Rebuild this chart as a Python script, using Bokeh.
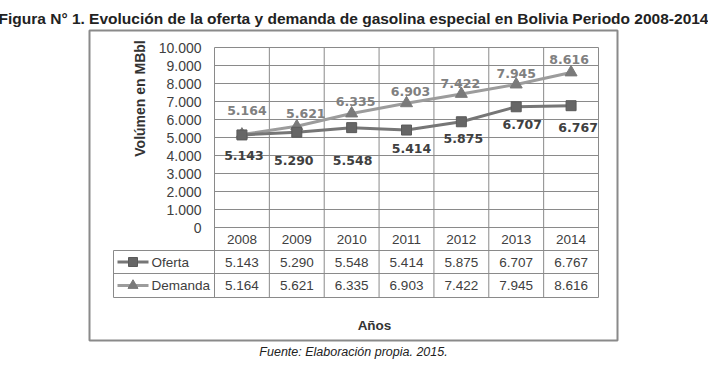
import math
from bokeh.plotting import figure
from bokeh.models import Range1d, LinearAxis, FixedTicker, Title, ColumnDataSource
from bokeh.core.properties import value
from bokeh.embed import file_html
from bokeh.resources import INLINE

# ---------------- data ----------------
years = ["2008", "2009", "2010", "2011", "2012", "2013", "2014"]
oferta = [5143, 5290, 5548, 5414, 5875, 6707, 6767]
demanda = [5164, 5621, 6335, 6903, 7422, 7945, 8616]
y_ticks = [0, 1000, 2000, 3000, 4000, 5000, 6000, 7000, 8000, 9000, 10000]
y_tick_labels = ["0", "1.000", "2.000", "3.000", "4.000", "5.000", "6.000",
                 "7.000", "8.000", "9.000", "10.000"]
series_names = ["Oferta", "Demanda"]


def fmt(v):
    return f"{v:,}".replace(",", ".")


# ---------------- layout helpers (page pixels -> data) ----------------
CAT_W = (598 - 214) / 7.0
PX_PER_UNIT = 180.0 / 10000.0


def X(px):
    return -0.5 + (px - 214) / CAT_W


def Y(py):
    return (227 - py) / PX_PER_UNIT


# label offsets (pixels) for the data labels
of_dx = [2, -3, 1, 5, 2, 6, 7]
of_dy = [21, 28, 33, 18, 17, 18, 22]
de_dx = [5, 9, 4, 4, -1, 0, -2]
de_dy = [-24, -13, -12, -12, -10, -11, -13]

GRID = "#8a8a8a"
TXT = "#404040"
FONT = value("Liberation Sans")

p = figure(width=708, height=368, output_backend="svg", toolbar_location=None,
           x_range=Range1d(X(89), X(617)), y_range=Range1d(Y(340), Y(30)),
           x_axis_location=None, y_axis_location=None,
           min_border_left=89, min_border_right=91, min_border_top=30,
           min_border_bottom=28)
p.grid.visible = False
p.outline_line_color = "#8a8a8a"
p.outline_line_width = 2
p.background_fill_color = "white"
p.border_fill_color = "white"

p.title.text = "Figura N° 1. Evolución de la oferta y demanda de gasolina especial en Bolivia Periodo 2008-2014"
p.title.text_font = "Liberation Sans"
p.title.text_font_size = "15.5px"
p.title.text_font_style = "bold"
p.title.text_color = "#222222"
p.title.align = "center"
p.title.standoff = 8

foot = Title(text="Fuente: Elaboración propia. 2015.", align="center",
             text_font="Liberation Sans", text_font_size="12.5px",
             text_font_style="italic", text_color="#222222", standoff=5)
p.add_layout(foot, "below")

# y axis
yax = LinearAxis(fixed_location=-0.5, ticker=FixedTicker(ticks=y_ticks),
                 bounds=(0, 10000),
                 major_label_overrides={t: l for t, l in zip(y_ticks, y_tick_labels)})
yax.axis_line_color = None
yax.major_tick_line_color = None
yax.minor_tick_line_color = None
yax.major_tick_out = 0
yax.major_tick_in = 0
yax.major_label_standoff = 13
yax.major_label_text_font = "Liberation Sans"
yax.major_label_text_font_size = "14px"
yax.major_label_text_color = TXT
p.add_layout(yax, "left")

n = len(years)
xs = list(range(n))

# horizontal gridlines
p.segment(x0=[-0.5] * len(y_ticks), x1=[n - 0.5] * len(y_ticks), y0=y_ticks, y1=y_ticks,
          line_color=GRID, line_width=1)
# vertical category lines through plot and table
bounds_x = [k - 0.5 for k in range(n + 1)]
p.segment(x0=bounds_x, x1=bounds_x, y0=[y_ticks[-1]] * len(bounds_x), y1=[Y(297)] * len(bounds_x),
          line_color=GRID, line_width=1)
# table horizontal lines
row_lines = [Y(250), Y(273), Y(297)]
p.segment(x0=[X(113)] * 3, x1=[n - 0.5] * 3, y0=row_lines, y1=row_lines,
          line_color=GRID, line_width=1)
p.segment(x0=[X(113)], x1=[X(113)], y0=[Y(250)], y1=[Y(297)], line_color=GRID, line_width=1)

# series
OF_LINE, OF_MARK = "#767676", "#666666"
DE_LINE, DE_MARK = "#9c9c9c", "#7a7a7a"
p.line(xs, demanda, line_color=DE_LINE, line_width=3)
p.line(xs, oferta, line_color=OF_LINE, line_width=3)
p.scatter(xs, demanda, marker="triangle", size=12, fill_color=DE_MARK, line_color=DE_MARK)
p.scatter(xs, oferta, marker="square", size=10, fill_color=OF_MARK, line_color="#5a5a5a")

# data labels
src_of = ColumnDataSource(dict(x=xs, y=oferta, t=[fmt(v) for v in oferta], dx=of_dx, dy=of_dy))
src_de = ColumnDataSource(dict(x=xs, y=demanda, t=[fmt(v) for v in demanda], dx=de_dx, dy=de_dy))
p.text(x="x", y="y", text="t", x_offset="dx", y_offset="dy", source=src_of,
       text_font=value("DejaVu Sans"), text_font_size="12.5px", text_font_style="bold",
       text_color="#404040", text_align="center", text_baseline="middle")
p.text(x="x", y="y", text="t", x_offset="dx", y_offset="dy", source=src_de,
       text_font=value("DejaVu Sans"), text_font_size="12.5px", text_font_style="bold",
       text_color="#808080", text_align="center", text_baseline="middle")

# data table: years row
p.text(x=xs, y=[Y(238.5)] * n, text=years, text_font=FONT, text_font_size="13.5px",
       text_color=TXT, text_align="center", text_baseline="middle")
p.text(x=xs, y=[Y(261.5)] * n, text=[fmt(v) for v in oferta], text_font=FONT,
       text_font_size="13.5px", text_color=TXT, text_align="center", text_baseline="middle")
p.text(x=xs, y=[Y(285)] * n, text=[fmt(v) for v in demanda], text_font=FONT,
       text_font_size="13.5px", text_color=TXT, text_align="center", text_baseline="middle")

# legend keys in table
p.segment(x0=[X(117)], x1=[X(148)], y0=[Y(261.5)], y1=[Y(261.5)], line_color=OF_LINE, line_width=3)
p.scatter([X(132.5)], [Y(261.5)], marker="square", size=9, fill_color=OF_MARK, line_color="#5a5a5a")
p.segment(x0=[X(117)], x1=[X(148)], y0=[Y(285)], y1=[Y(285)], line_color=DE_LINE, line_width=3)
p.scatter([X(132.5)], [Y(285)], marker="triangle", size=10, fill_color=DE_MARK, line_color=DE_MARK)
p.text(x=[X(151)] * 2, y=[Y(261.5), Y(285)], text=series_names, text_font=FONT,
       text_font_size="13.5px", text_color=TXT, text_align="left", text_baseline="middle")

# axis titles
p.text(x=[X(139)], y=[Y(98)], text=["Volúmen en MBbl"], angle=math.pi / 2,
       text_font=FONT, text_font_size="14px", text_font_style="bold", text_color="#333333",
       text_align="center", text_baseline="middle")
p.text(x=[X(374)], y=[Y(325)], text=["Años"], text_font=FONT, text_font_size="13.5px",
       text_font_style="bold", text_color="#333333", text_align="center", text_baseline="middle")

open("out.html", "w").write(file_html(p, INLINE))
